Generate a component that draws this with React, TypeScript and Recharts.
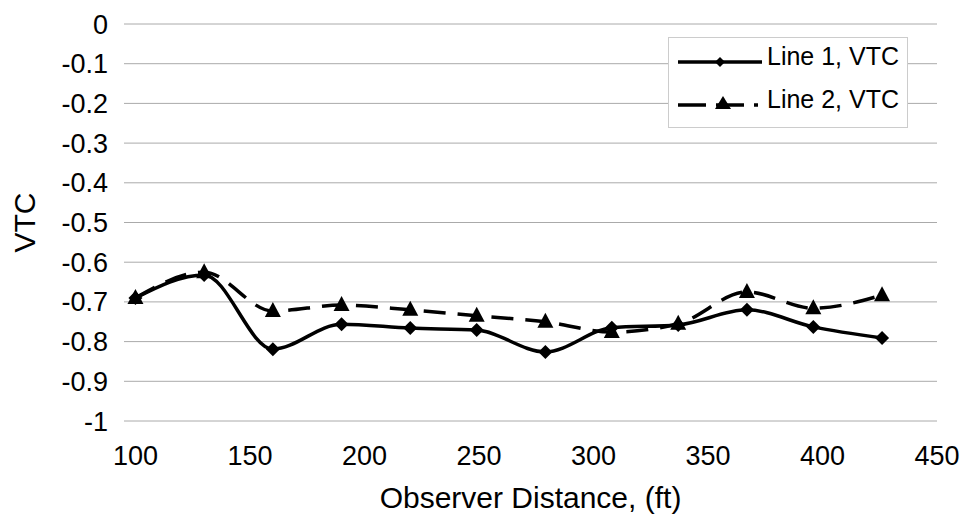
import React from 'react'
import { LineChart, Line, XAxis, YAxis, CartesianGrid, Legend } from 'recharts'

// observer distance (ft) for each reading
const distances = [100, 130, 160, 190, 220, 249, 279, 308, 337, 367, 396, 426]
const line1Vtc = [-0.69, -0.632, -0.819, -0.756, -0.766, -0.771, -0.826, -0.765, -0.758, -0.72, -0.763, -0.791]
const line2Vtc = [-0.69, -0.625, -0.723, -0.708, -0.72, -0.735, -0.75, -0.776, -0.755, -0.675, -0.716, -0.683]

const xTicks = [100, 150, 200, 250, 300, 350, 400, 450]
const yTicks = [0, -0.1, -0.2, -0.3, -0.4, -0.5, -0.6, -0.7, -0.8, -0.9, -1]

const data = distances.map((x, i) => ({ x, line1: line1Vtc[i], line2: line2Vtc[i] }))

const font = '"Liberation Sans", Arial, sans-serif'

const Diamond = (props: any) => {
  const { cx, cy, key } = props
  if (cx == null || cy == null) return null
  return <polygon key={key} points={`${cx},${cy - 7} ${cx + 7},${cy} ${cx},${cy + 7} ${cx - 7},${cy}`} fill="#000" />
}

const Triangle = (props: any) => {
  const { cx, cy, key } = props
  if (cx == null || cy == null) return null
  return <polygon key={key} points={`${cx},${cy - 9} ${cx + 8},${cy + 6} ${cx - 8},${cy + 6}`} fill="#000" />
}

function renderLegend() {
  return (
    <svg width={240} height={91} style={{ display: 'block' }}>
      <rect x={0.5} y={0.5} width={239} height={90} fill="#fff" stroke="#ccc" />
      {/* Line 1 */}
      <line x1={10} x2={94} y1={25} y2={25} stroke="#000" strokeWidth={3.5} />
      <polygon points="52,20 57,25 52,30 47,25" fill="#000" />
      <text x={99} y={28} fontSize={25} fontFamily={font} fill="#000">Line 1, VTC</text>
      {/* Line 2 */}
      <line x1={10} x2={90} y1={68} y2={68} stroke="#000" strokeWidth={3.5} strokeDasharray="28 10" />
      <polygon points="55,59 63,72 47,72" fill="#000" />
      <text x={99} y={71} fontSize={25} fontFamily={font} fill="#000">Line 2, VTC</text>
    </svg>
  )
}

export default function App() {
  return (
    <div style={{ position: 'absolute', left: 0, top: 0, background: '#fff' }}>
      <LineChart width={965} height={517} data={data} margin={{ top: 24, right: 28, bottom: 0, left: 0 }} style={{ fontFamily: font }}>
        <CartesianGrid vertical={false} stroke="#aaa" strokeWidth={1} />
        <XAxis
          type="number"
          dataKey="x"
          domain={[95, 450]}
          ticks={xTicks}
          axisLine={false}
          tickLine={false}
          tickMargin={19}
          height={96}
          tick={{ fontSize: 27, fill: '#000', fontFamily: font }}
          label={{ value: 'Observer Distance, (ft)', position: 'insideBottom', offset: 9, style: { fontSize: 30, fill: '#000', fontFamily: font } }}
        />
        <YAxis
          type="number"
          domain={[-1, 0]}
          ticks={yTicks}
          interval={0}
          axisLine={false}
          tickLine={false}
          tickMargin={10}
          width={124}
          tick={{ fontSize: 27, fill: '#000', fontFamily: font }}
          label={{ value: 'VTC', angle: -90, position: 'insideLeft', offset: 24, style: { fontSize: 30, fill: '#000', fontFamily: font, textAnchor: 'middle' } }}
        />
        <Legend
          content={renderLegend}
          layout="vertical"
          align="center"
          verticalAlign="middle"
          wrapperStyle={{ position: 'absolute', left: 668, top: 37, width: 240, height: 91 }}
        />
        <Line type="monotone" dataKey="line1" name="Line 1, VTC" stroke="#000" strokeWidth={3.5} dot={Diamond} activeDot={false} isAnimationActive={false} />
        <Line type="monotone" dataKey="line2" name="Line 2, VTC" stroke="#000" strokeWidth={3.5} strokeDasharray="22 12" dot={Triangle} activeDot={false} isAnimationActive={false} />
      </LineChart>
    </div>
  )
}
